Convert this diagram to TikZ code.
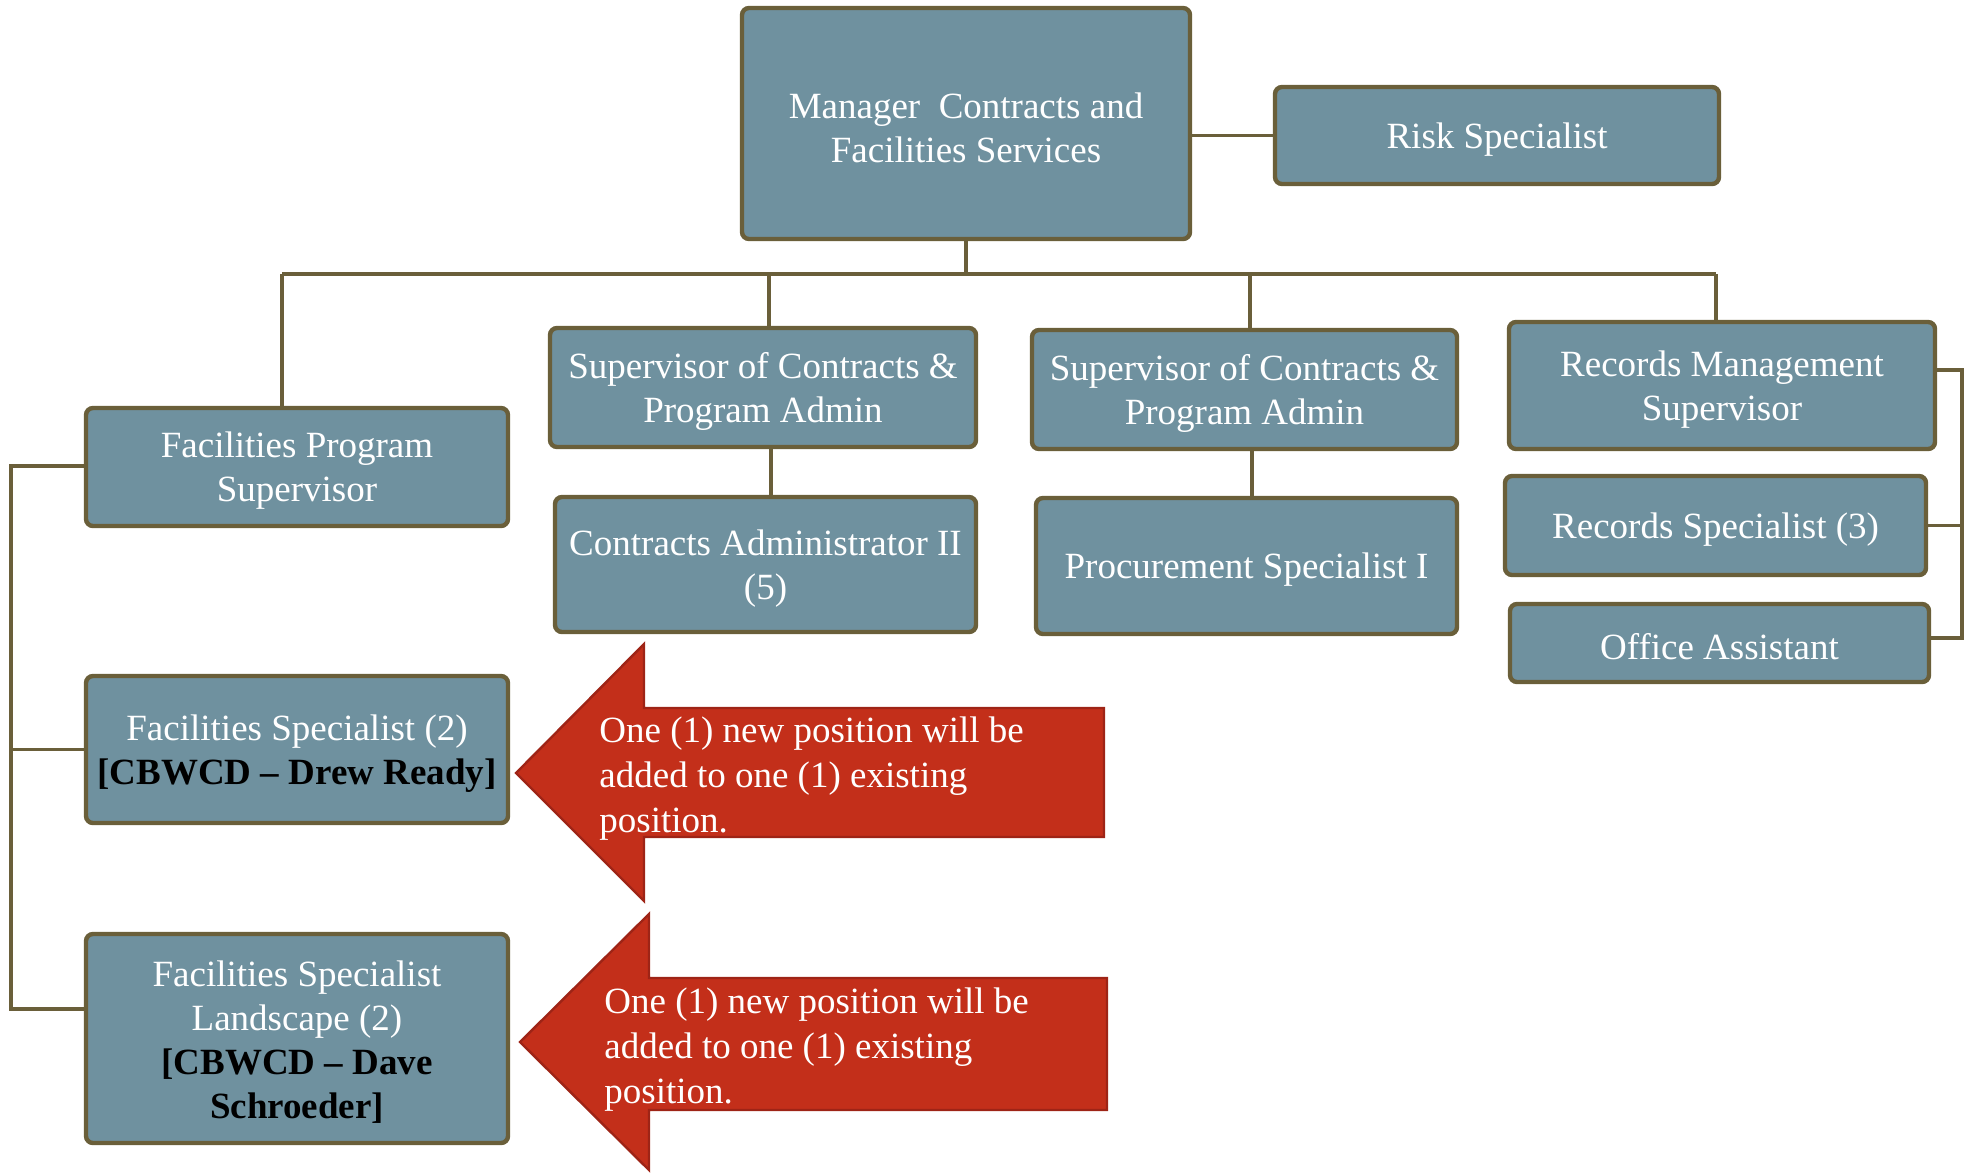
\documentclass[tikz,border=0pt]{standalone}
\usepackage{fontspec}
\setmainfont{Liberation Serif}
\definecolor{boxfill}{HTML}{6F919F}
\definecolor{boxline}{HTML}{6A5F3A}
\definecolor{arrfill}{HTML}{C32F1A}
\definecolor{arrline}{HTML}{9E2416}
\tikzset{
  box/.style={draw=boxline, line width=2.2pt, fill=boxfill, rounded corners=3.5pt, inner sep=0pt},
  boxtext/.style={text=white, align=center, inner sep=0pt, yshift=-2pt,
    font=\fontsize{18.5}{22}\selectfont},
  conn/.style={draw=boxline, line width=1.6pt},
  arrowshape/.style={fill=arrfill, draw=arrline, line width=1.2pt},
  arrowtext/.style={text=white, align=left, anchor=west, inner sep=0pt, yshift=-2pt,
    font=\fontsize{18.5}{22.5}\selectfont},
}
\begin{document}
\begin{tikzpicture}[x=0.5pt,y=-0.5pt]
\useasboundingbox (0,0) rectangle (1973,1173);
% boxes
\node[box, minimum width=224pt, minimum height=115.5pt] (mgr) at (966,123.5) {};
\node[box, minimum width=222pt, minimum height=48.5pt] (risk) at (1497,135.5) {};
\node[box, minimum width=211pt, minimum height=59pt] (fps) at (297,467) {};
\node[box, minimum width=213pt, minimum height=59.5pt] (sup1) at (763,387.5) {};
\node[box, minimum width=210.5pt, minimum height=67.5pt] (ca2) at (765.5,564.5) {};
\node[box, minimum width=212.5pt, minimum height=59.5pt] (sup2) at (1244.5,389.5) {};
\node[box, minimum width=210.5pt, minimum height=68pt] (proc) at (1246.5,566) {};
\node[box, minimum width=213pt, minimum height=63.5pt] (rms) at (1722,385.5) {};
\node[box, minimum width=210.5pt, minimum height=49.5pt] (rs) at (1715.5,525.5) {};
\node[box, minimum width=209.5pt, minimum height=39pt] (oa) at (1719.5,643) {};
\node[box, minimum width=211pt, minimum height=73.5pt] (fs) at (297,749.5) {};
\node[box, minimum width=211pt, minimum height=104.5pt] (fsl) at (297,1038.5) {};
% box texts
\node[boxtext] (mgrT) at (mgr.center) {Manager\ \ Contracts and\\Facilities Services};
\node[boxtext] (riskT) at (risk.center) {Risk Specialist};
\node[boxtext] (fpsT) at (fps.center) {Facilities Program\\Supervisor};
\node[boxtext] (sup1T) at (sup1.center) {Supervisor of Contracts \&\\Program Admin};
\node[boxtext] (ca2T) at (ca2.center) {Contracts Administrator II\\(5)};
\node[boxtext] (sup2T) at (sup2.center) {Supervisor of Contracts \&\\Program Admin};
\node[boxtext] (procT) at (proc.center) {Procurement Specialist I};
\node[boxtext] (rmsT) at (rms.center) {Records Management\\Supervisor};
\node[boxtext] (rsT) at (rs.center) {Records Specialist (3)};
\node[boxtext] (oaT) at (oa.center) {Office Assistant};
\node[boxtext] (fsT) at (fs.center) {Facilities Specialist (2)\\\textcolor{black}{\bfseries [CBWCD \textendash{} Drew Ready]}};
\node[boxtext] (fslT) at (fsl.center) {Facilities Specialist\\Landscape (2)\\\textcolor{black}{\bfseries [CBWCD \textendash{} Dave}\\\textcolor{black}{\bfseries Schroeder]}};
% connectors
\coordinate (busL) at (282,274);
\coordinate (busR) at (1716,274);
\coordinate (d1) at (769,274);
\coordinate (d2) at (1250,274);
\coordinate (e1) at (771,447);
\coordinate (e2) at (1252,449);
\draw[conn] (mgr.south) -- (mgr.south |- busL);
\draw[conn] (busL) -- (busR);
\draw[conn] (busL) -- (busL |- fps.north);
\draw[conn] (d1) -- (d1 |- sup1.north);
\draw[conn] (d2) -- (d2 |- sup2.north);
\draw[conn] (busR) -- (busR |- rms.north);
\draw[conn] (mgr.east |- risk.west) -- (risk.west);
\draw[conn] (e1 |- sup1.south) -- (e1 |- ca2.north);
\draw[conn] (e2 |- sup2.south) -- (e2 |- proc.north);
\coordinate (rbT) at (1962,370);
\coordinate (rbB) at (1962,638);
\draw[conn] (rms.east |- rbT) -- (rbT) -- (rbB) -- (oa.east |- rbB);
\draw[conn] (rs.east) -- (rs.east -| rbT);
\coordinate (lbT) at (11,466);
\coordinate (lbB) at (11,1009);
\draw[conn] (fps.west |- lbT) -- (lbT) -- (lbB) -- (fsl.west |- lbB);
\draw[conn] (fs.west) -- (fs.west -| lbT);
% arrows
\draw[arrowshape] (516,773) -- (644,644) -- (644,708) -- (1104,708) -- (1104,837) -- (644,837) -- (644,901) -- cycle;
\node[arrowtext] (a1) at (599,775) {One (1) new position will be\\added to one (1) existing\\position.};
\draw[arrowshape] (520,1042) -- (649,914) -- (649,978) -- (1107,978) -- (1107,1110) -- (649,1110) -- (649,1170) -- cycle;
\node[arrowtext] (a2) at (604,1046) {One (1) new position will be\\added to one (1) existing\\position.};
\end{tikzpicture}
\end{document}
